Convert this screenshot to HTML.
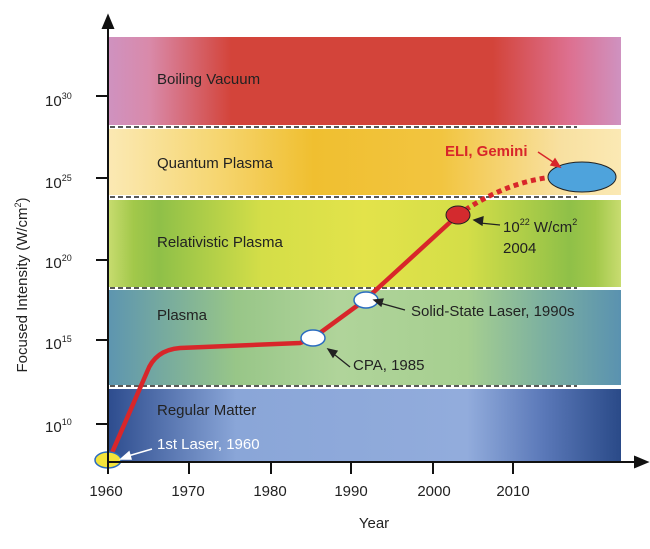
<!DOCTYPE html>
<html><head><meta charset="utf-8"><style>
body{margin:0;background:#fff;width:650px;height:544px;overflow:hidden}
svg text{font-family:"Liberation Sans",sans-serif}
</style></head><body>
<svg width="650" height="544" viewBox="0 0 650 544">
<defs>
<linearGradient id="g1" x1="0" x2="1"><stop offset="0" stop-color="#cf92c0"/><stop offset=".08" stop-color="#d98aaa"/><stop offset=".24" stop-color="#d3443a"/><stop offset=".75" stop-color="#d3443a"/><stop offset=".9" stop-color="#dd7090"/><stop offset="1" stop-color="#cf92c0"/></linearGradient>
<linearGradient id="g2" x1="0" x2="1"><stop offset="0" stop-color="#fbe9b4"/><stop offset=".2" stop-color="#f6d775"/><stop offset=".4" stop-color="#f0bf30"/><stop offset=".65" stop-color="#f2c540"/><stop offset=".88" stop-color="#f8e0a0"/><stop offset="1" stop-color="#fbe9b4"/></linearGradient>
<linearGradient id="g3" x1="0" x2="1"><stop offset="0" stop-color="#c8dc70"/><stop offset=".05" stop-color="#a2c84a"/><stop offset=".1" stop-color="#8fc048"/><stop offset=".3" stop-color="#d4de48"/><stop offset=".5" stop-color="#e3e34a"/><stop offset=".7" stop-color="#d4de48"/><stop offset=".9" stop-color="#8fc048"/><stop offset=".95" stop-color="#a2c84a"/><stop offset="1" stop-color="#c8dc70"/></linearGradient>
<linearGradient id="g4" x1="0" x2="1"><stop offset="0" stop-color="#5d95b0"/><stop offset=".25" stop-color="#98c688"/><stop offset=".45" stop-color="#b0d49a"/><stop offset=".7" stop-color="#a6cf90"/><stop offset=".85" stop-color="#7cb0a0"/><stop offset="1" stop-color="#5a92b0"/></linearGradient>
<linearGradient id="g5" x1="0" x2="1"><stop offset="0" stop-color="#2d4c8e"/><stop offset=".25" stop-color="#8aa6d8"/><stop offset=".7" stop-color="#92acdc"/><stop offset=".85" stop-color="#5a78b8"/><stop offset="1" stop-color="#2a4a88"/></linearGradient>
</defs>
<rect x="108" y="37" width="513" height="88" fill="url(#g1)"/>
<rect x="108" y="129" width="513" height="66" fill="url(#g2)"/>
<rect x="108" y="200" width="513" height="87" fill="url(#g3)"/>
<rect x="108" y="290" width="513" height="95" fill="url(#g4)"/>
<rect x="108" y="389" width="513" height="73" fill="url(#g5)"/>
<g stroke="#222" stroke-width="1.5" stroke-dasharray="5,3">
<line x1="110" y1="127" x2="577" y2="127"/><line x1="110" y1="197" x2="577" y2="197"/>
<line x1="110" y1="288" x2="577" y2="288"/><line x1="110" y1="386" x2="577" y2="386"/></g>
<g fill="#222" font-size="15">
<text x="157" y="84">Boiling Vacuum</text><text x="157" y="168">Quantum Plasma</text>
<text x="157" y="247">Relativistic Plasma</text><text x="157" y="320">Plasma</text>
<text x="157" y="415">Regular Matter</text></g>
<text x="157" y="449" fill="#fff" font-size="15">1st Laser, 1960</text>
<path d="M108,462 L147,372 Q155,350 180,348 L300,343 L313,338 L365,300 L458,215" fill="none" stroke="#d8262a" stroke-width="4.5"/>
<path d="M458,215 Q500,185 545,178" fill="none" stroke="#d8262a" stroke-width="5" stroke-dasharray="5,4"/>
<ellipse cx="108" cy="460" rx="13" ry="8" fill="#f3e33a" stroke="#2a6cc0" stroke-width="1.5"/>
<ellipse cx="313" cy="338" rx="12" ry="8" fill="#fff" stroke="#2a6cc0" stroke-width="1.5"/>
<ellipse cx="366" cy="300" rx="12" ry="8" fill="#fff" stroke="#2a6cc0" stroke-width="1.5"/>
<ellipse cx="458" cy="215" rx="12" ry="9" fill="#d32a2e" stroke="#222" stroke-width="1"/>
<ellipse cx="582" cy="177" rx="34" ry="15" fill="#4ea3dc" stroke="#222" stroke-width="1"/>
<g stroke="#222" stroke-width="1.3" fill="#222">
<line x1="480" y1="223" x2="500" y2="225"/><path d="M474,220 l9,-3 l-1,8z"/>
<line x1="380" y1="303" x2="405" y2="310"/><path d="M374,300 l9,-1 l-2,7z"/>
<line x1="335" y1="355" x2="350" y2="367"/><path d="M328,349 l9,2 l-4,6z"/>
</g>
<g stroke="#fff" stroke-width="1.5" fill="#fff"><line x1="128" y1="456" x2="152" y2="449"/><path d="M121,459 l8,-7 l2,7z"/></g>
<g stroke="#d8262a" stroke-width="1.5" fill="#d8262a"><line x1="538" y1="152" x2="553" y2="162"/><path d="M560,167 l-9,-2 l4,-6z"/></g>
<text x="445" y="156" fill="#d8262a" font-size="15" font-weight="bold">ELI, Gemini</text>
<g fill="#222" font-size="15">
<text x="503" y="232">10<tspan font-size="9" dy="-7">22</tspan><tspan dy="7"> W/cm</tspan><tspan font-size="9" dy="-7">2</tspan></text>
<text x="503" y="253">2004</text>
<text x="411" y="316">Solid-State Laser, 1990s</text>
<text x="353" y="370">CPA, 1985</text></g>
<g stroke="#111" stroke-width="2" fill="#111">
<line x1="108" y1="462" x2="108" y2="25"/><path d="M108,16 l-5,12 l10,0z"/>
<line x1="108" y1="462" x2="638" y2="462"/><path d="M647,462 l-12,-5 l0,10z"/>
<line x1="96" y1="96" x2="108" y2="96"/><line x1="96" y1="178" x2="108" y2="178"/><line x1="96" y1="260" x2="108" y2="260"/><line x1="96" y1="340" x2="108" y2="340"/><line x1="96" y1="424" x2="108" y2="424"/>
<line x1="108" y1="462" x2="108" y2="474"/><line x1="189" y1="462" x2="189" y2="474"/><line x1="271" y1="462" x2="271" y2="474"/><line x1="351" y1="462" x2="351" y2="474"/><line x1="433" y1="462" x2="433" y2="474"/><line x1="513" y1="462" x2="513" y2="474"/>
</g>
<g fill="#222" font-size="15">
<text x="45" y="106">10<tspan font-size="9" dy="-7">30</tspan></text>
<text x="45" y="188">10<tspan font-size="9" dy="-7">25</tspan></text>
<text x="45" y="268">10<tspan font-size="9" dy="-7">20</tspan></text>
<text x="45" y="349">10<tspan font-size="9" dy="-7">15</tspan></text>
<text x="45" y="432">10<tspan font-size="9" dy="-7">10</tspan></text>
<g text-anchor="middle"><text x="106" y="496">1960</text><text x="188" y="496">1970</text><text x="270" y="496">1980</text><text x="351" y="496">1990</text><text x="434" y="496">2000</text><text x="513" y="496">2010</text>
<text x="374" y="528">Year</text>
<text transform="translate(27,285) rotate(-90)">Focused Intensity (W/cm<tspan font-size="9" dy="-6">2</tspan><tspan dy="6">)</tspan></text></g>
</g>
</svg>
</body></html>
